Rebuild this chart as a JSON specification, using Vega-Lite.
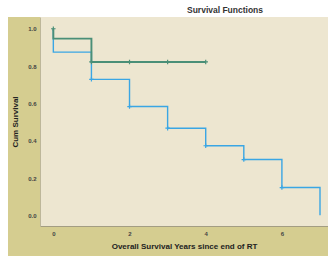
{
  "$schema": "https://vega.github.io/schema/vega-lite/v6.json",
  "width": 288,
  "height": 209,
  "autosize": "none",
  "padding": {"left": 40, "top": 17, "right": 0, "bottom": 31},
  "background": "white",
  "view": {"stroke": null},
  "title": {"text": "Survival Functions", "font": "Liberation Sans", "fontSize": 8.5, "fontWeight": "bold", "color": "#333333", "anchor": "middle", "dx": 41, "offset": 3},
  "datasets": {
    "curves": [
      {"group": "g1", "i": 0, "year": 0, "surv": 1.0},
      {"group": "g1", "i": 1, "year": 0, "surv": 0.875},
      {"group": "g1", "i": 2, "year": 1, "surv": 0.729},
      {"group": "g1", "i": 3, "year": 2, "surv": 0.583},
      {"group": "g1", "i": 4, "year": 3, "surv": 0.467},
      {"group": "g1", "i": 5, "year": 4, "surv": 0.373},
      {"group": "g1", "i": 6, "year": 5, "surv": 0.299},
      {"group": "g1", "i": 7, "year": 6, "surv": 0.149},
      {"group": "g1", "i": 8, "year": 7, "surv": 0.0},
      {"group": "g2", "i": 0, "year": 0, "surv": 1.0},
      {"group": "g2", "i": 1, "year": 0, "surv": 0.947},
      {"group": "g2", "i": 2, "year": 1, "surv": 0.822},
      {"group": "g2", "i": 3, "year": 4, "surv": 0.822}
    ],
    "censored": [
      {"group": "g1", "year": 1, "surv": 0.729},
      {"group": "g1", "year": 2, "surv": 0.583},
      {"group": "g1", "year": 3, "surv": 0.467},
      {"group": "g1", "year": 4, "surv": 0.373},
      {"group": "g1", "year": 5, "surv": 0.299},
      {"group": "g1", "year": 6, "surv": 0.149},
      {"group": "g2", "year": 0, "surv": 1.0},
      {"group": "g2", "year": 1, "surv": 0.822},
      {"group": "g2", "year": 2, "surv": 0.822},
      {"group": "g2", "year": 3, "surv": 0.822},
      {"group": "g2", "year": 4, "surv": 0.822}
    ]
  },
  "data": {"name": "curves"},
  "layer": [
    {
      "mark": {"type": "rect", "clip": false, "color": "#d5cd90"},
      "encoding": {
        "x": {"datum": -1.19, "type": "quantitative", "scale": {"domain": [-0.35, 7.21], "nice": false, "zero": false}},
        "x2": {"datum": 7.3},
        "y": {"datum": 1.063, "type": "quantitative", "scale": {"domain": [-0.057, 1.063], "nice": false, "zero": false}},
        "y2": {"datum": -0.215}
      }
    },
    {
      "mark": {"type": "rect", "clip": false, "color": "#ede6d0"},
      "encoding": {
        "x": {"datum": -0.35, "type": "quantitative"},
        "x2": {"datum": 7.3},
        "y": {"datum": 1.063, "type": "quantitative"},
        "y2": {"datum": -0.057}
      }
    },
    {
      "mark": {"type": "line", "interpolate": "step-after"},
      "encoding": {
        "x": {"field": "year", "type": "quantitative",
          "axis": {"title": "Overall Survival Years since end of RT", "values": [0, 2, 4, 6], "format": "d", "zindex": 1, "ticks": false, "grid": false, "domainColor": "#a39d82", "domainWidth": 1, "labelFont": "Liberation Sans", "labelFontSize": 6, "labelFontWeight": "bold", "labelColor": "#444444", "labelPadding": 4, "titleFont": "Liberation Sans", "titleFontSize": 8, "titleFontWeight": "bold", "titleColor": "#222222", "titlePadding": 6}},
        "y": {"field": "surv", "type": "quantitative",
          "axis": {"title": "Cum Survival", "values": [0, 0.2, 0.4, 0.6, 0.8, 1.0], "format": ".1f", "zindex": 1, "ticks": false, "grid": false, "domainColor": "#bdb79a", "domainWidth": 1, "labelFont": "Liberation Sans", "labelFontSize": 6, "labelFontWeight": "bold", "labelColor": "#444444", "labelPadding": 4, "titleFont": "Liberation Sans", "titleFontSize": 8, "titleFontWeight": "bold", "titleColor": "#222222", "titlePadding": 8}},
        "order": {"field": "i", "type": "quantitative"},
        "color": {"field": "group", "type": "nominal", "scale": {"domain": ["g1", "g2"], "range": ["#3aa6e4", "#4a8f77"]}, "legend": null},
        "strokeWidth": {"field": "group", "type": "nominal", "scale": {"domain": ["g1", "g2"], "range": [1.4, 1.9]}, "legend": null}
      }
    },
    {
      "data": {"name": "censored"},
      "mark": {"type": "point", "shape": "M-1,0H1M0,-1V1", "size": 20, "strokeWidth": 1.2, "filled": false, "opacity": 1},
      "encoding": {
        "x": {"field": "year", "type": "quantitative"},
        "y": {"field": "surv", "type": "quantitative"},
        "color": {"field": "group", "type": "nominal", "scale": {"domain": ["g1", "g2"], "range": ["#3aa6e4", "#2f6e5a"]}, "legend": null}
      }
    }
  ]
}
